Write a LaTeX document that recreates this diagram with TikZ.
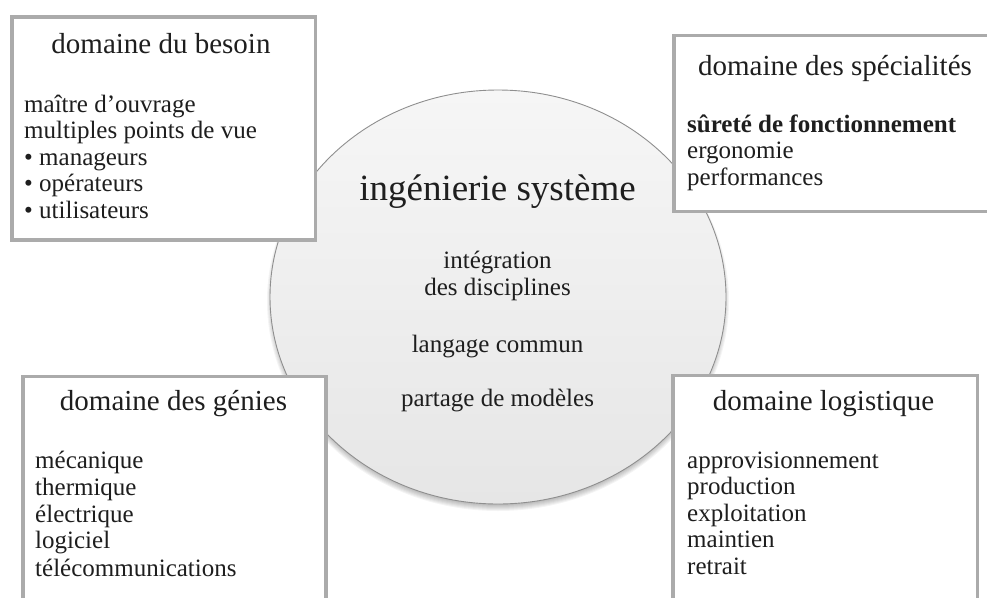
\documentclass[tikz,border=0pt]{standalone}
\usepackage{fontspec}
\setmainfont{Liberation Serif}
\usetikzlibrary{shapes.geometric}
\definecolor{boxgray}{HTML}{ABABAB}
\definecolor{ringgray}{HTML}{8F8F8F}
\definecolor{inktext}{HTML}{1E1E1E}
\definecolor{discTop}{HTML}{F6F6F6}
\definecolor{discBot}{HTML}{E6E6E6}
\begin{document}
\begin{tikzpicture}[x=1pt,y=-1pt,
  dombox/.style={draw=boxgray, line width=3.5pt, fill=white, rectangle, anchor=north west, inner sep=0pt},
  disc/.style={ellipse, draw=ringgray, line width=0.9pt, top color=discTop, bottom color=discBot, inner sep=0pt},
  bodytxt/.style={inner sep=0pt, anchor=base west, text=inktext, font=\fontsize{25}{26.5}\selectfont},
  titletxt/.style={inner sep=0pt, anchor=base, text=inktext, font=\fontsize{29}{32}\selectfont},
  disctxt/.style={inner sep=0pt, anchor=base, text=inktext, font=\fontsize{25}{26.5}\selectfont},
  bigtxt/.style={inner sep=0pt, anchor=base, text=inktext, font=\fontsize{37}{40}\selectfont}]
\useasboundingbox (0,0) rectangle (987,597);
% soft shadow under the disc
\foreach \i in {0,...,8}{
  \fill[black, opacity=0.045] (498,301) ellipse [x radius={223pt+\i*1pt}, y radius={202pt+\i*1pt}];
}
\node[disc, minimum width=456pt, minimum height=414pt] (sys) at (498,297) {};
\node[bigtxt] (systitle) at (497.5,200) {ingénierie système};
\node[disctxt] (integ) at (497.5,268) {intégration};
\node[disctxt] (discip) at (497.5,295) {des disciplines};
\node[disctxt] (lang) at (497.5,352) {langage commun};
\node[disctxt] (part) at (497.5,406) {partage de modèles};

% domaine du besoin
\node[dombox, minimum width=303.5pt, minimum height=223pt] (besoin) at (10,15) {};
\node[titletxt] (besointitle) at (161,53) {domaine du besoin};
\node[bodytxt] (b1) at (24,112) {maître d’ouvrage};
\node[bodytxt] (b2) at (24,138.5) {multiples points de vue};
\node[bodytxt] (b3) at (24,165) {\textbullet\ manageurs};
\node[bodytxt] (b4) at (24,191.5) {\textbullet\ opérateurs};
\node[bodytxt] (b5) at (24,218) {\textbullet\ utilisateurs};

% domaine des specialites
\node[dombox, minimum width=330pt, minimum height=176pt] (spec) at (672,33.5) {};
\node[titletxt] (spectitle) at (835,75) {domaine des spécialités};
\node[bodytxt, font=\fontsize{25}{26.5}\selectfont\bfseries] (s1) at (687,132) {sûreté de fonctionnement};
\node[bodytxt] (s2) at (687,158.5) {ergonomie};
\node[bodytxt] (s3) at (687,185) {performances};

% domaine des genies
\node[dombox, minimum width=303pt, minimum height=240pt] (genies) at (21,374.5) {};
\node[titletxt] (geniestitle) at (173.5,410) {domaine des génies};
\node[bodytxt] (g1) at (35,468) {mécanique};
\node[bodytxt] (g2) at (35,495) {thermique};
\node[bodytxt] (g3) at (35,522) {électrique};
\node[bodytxt] (g4) at (35,548.5) {logiciel};
\node[bodytxt] (g5) at (35,576) {télécommunications};

% domaine logistique
\node[dombox, minimum width=304.5pt, minimum height=240pt] (logi) at (671,373.5) {};
\node[titletxt] (logititle) at (823.5,410) {domaine logistique};
\node[bodytxt] (l1) at (687,468) {approvisionnement};
\node[bodytxt] (l2) at (687,494.5) {production};
\node[bodytxt] (l3) at (687,521) {exploitation};
\node[bodytxt] (l4) at (687,547.5) {maintien};
\node[bodytxt] (l5) at (687,574) {retrait};
\end{tikzpicture}
\end{document}
